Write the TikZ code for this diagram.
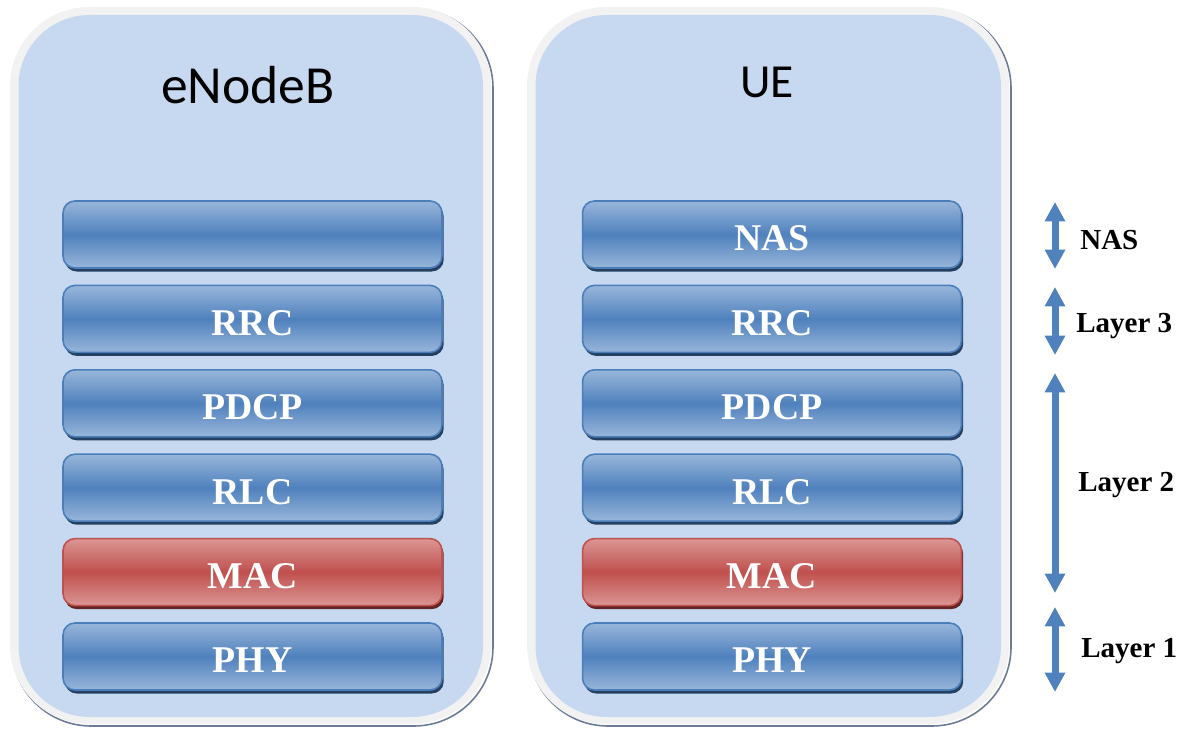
\documentclass[tikz,border=0pt]{standalone}
\usepackage{fontspec}
\setmainfont{Liberation Serif}
\newfontfamily\calibri{Carlito}
\usetikzlibrary{arrows.meta,shadows}
\definecolor{panelblue}{HTML}{C6D9F0}
\definecolor{panelrim}{HTML}{F2F2F2}
\definecolor{panelshade}{HTML}{6C7A96}
\definecolor{layerlight}{HTML}{98B6DA}
\definecolor{layermid}{HTML}{4F81BD}
\definecolor{layerrim}{HTML}{4A7EBB}
\definecolor{layershade}{HTML}{254061}
\definecolor{maclight}{HTML}{DA9694}
\definecolor{macmid}{HTML}{C0504D}
\definecolor{macrim}{HTML}{C0504D}
\definecolor{macshade}{HTML}{632523}
\tikzset{
  layer/.style={rounded corners=6.8pt,minimum width=7.58cm,minimum height=1.34cm,
    inner sep=0pt,text=white,line width=0.9pt,text height=18.7pt,text depth=0pt,
    font=\bfseries\fontsize{21.5}{21.5}\selectfont},
  bluelayer/.style={layer,draw=layerrim,top color=layerlight,bottom color=layerlight,
    middle color=layermid,general shadow={fill=layershade,shadow xshift=1pt,shadow yshift=-2pt}},
  redlayer/.style={layer,draw=macrim,top color=maclight,bottom color=maclight,
    middle color=macmid,general shadow={fill=macshade,shadow xshift=1pt,shadow yshift=-2pt}},
  sidelabel/.style={anchor=west,inner sep=0pt,font=\bfseries\fontsize{16.5}{16.5}\selectfont},
  updown/.style={draw=layermid,line width=4pt,
    {Triangle[width=11pt,length=11pt]}-{Triangle[width=11pt,length=11pt]}}
}
\begin{document}
\begin{tikzpicture}[x=0.02cm,y=-0.02cm]
  \useasboundingbox (0,0) rectangle (1186,729);
  % the two stations
  \foreach \xa/\xb in {10/491,527/1009}{
    \draw[panelshade,line width=0.9pt,rounded corners=45pt] (\xa+2,9) rectangle (\xb+2,726);
    \fill[panelrim,rounded corners=45pt] (\xa,7) rectangle (\xb,724);
    \fill[panelblue,rounded corners=40.5pt] (\xa+8.5,15) rectangle (\xb-8,717);
  }
  \node[font=\calibri\fontsize{30.5}{30.5}\selectfont] (enb) at (248,85) {eNodeB};
  \node[font=\calibri\fontsize{27}{27}\selectfont] (ue) at (767,82) {UE};
  % protocol stacks
  \foreach \name/\txt/\sty [count=\i from 0] in
      {top//bluelayer,rrc/RRC/bluelayer,pdcp/PDCP/bluelayer,rlc/RLC/bluelayer,mac/MAC/redlayer,phy/PHY/bluelayer}
    \node[\sty] (enb-\name) at (252.5,{234.5+84.4*\i}) {\txt};
  \foreach \name/\txt/\sty [count=\i from 0] in
      {nas/NAS/bluelayer,rrc/RRC/bluelayer,pdcp/PDCP/bluelayer,rlc/RLC/bluelayer,mac/MAC/redlayer,phy/PHY/bluelayer}
    \node[\sty] (ue-\name) at (772,{234.5+84.4*\i}) {\txt};
  % layer markers
  \coordinate (nasT) at (1055,202); \coordinate (nasB) at (1055,269);
  \coordinate (l3T) at (1055,287);  \coordinate (l3B) at (1055,355);
  \coordinate (l2T) at (1055,373);  \coordinate (l2B) at (1055,593);
  \coordinate (l1T) at (1055,607);  \coordinate (l1B) at (1055,692);
  \draw[updown] (nasT) -- (nasB);
  \draw[updown] (l3T) -- (l3B);
  \draw[updown] (l2T) -- (l2B);
  \draw[updown] (l1T) -- (l1B);
  \node[sidelabel] (nasl) at (1080,240) {NAS};
  \node[sidelabel] (l3l) at (1076,326) {Layer 3};
  \node[sidelabel] (l2l) at (1078,485) {Layer 2};
  \node[sidelabel] (l1l) at (1081,651) {Layer 1};
\end{tikzpicture}
\end{document}
